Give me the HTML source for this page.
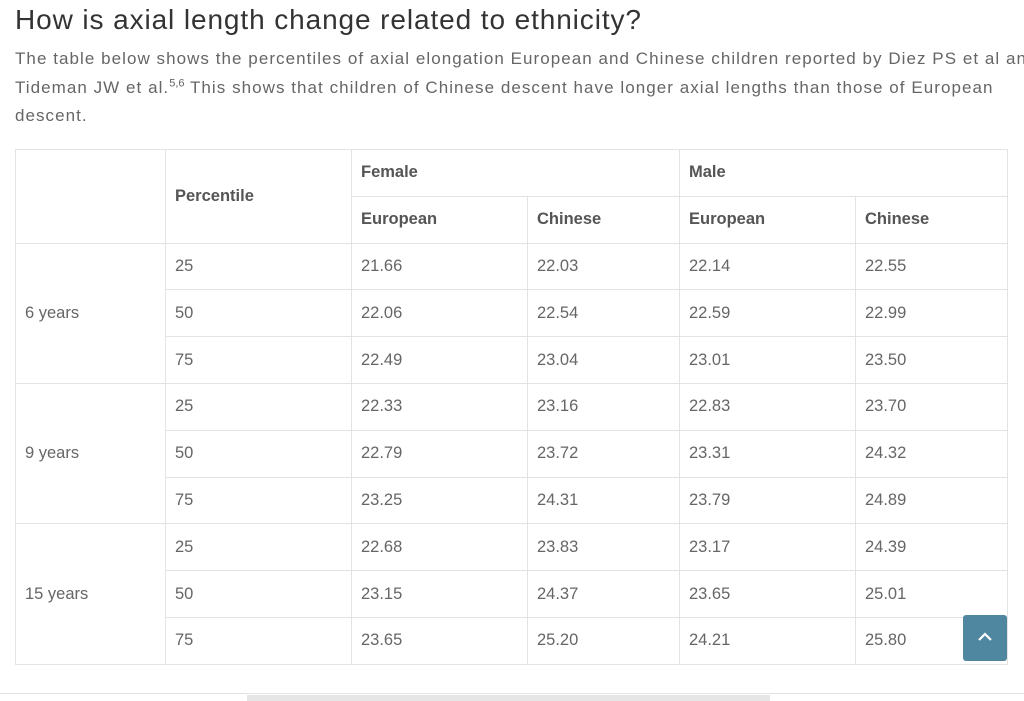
<!DOCTYPE html>
<html><head><meta charset="utf-8"><style>
body{margin:0;width:1024px;height:701px;background:#fff;font-family:"Liberation Sans",sans-serif;position:relative;overflow:hidden}
h2{position:absolute;left:15px;top:4px;margin:0;font-weight:normal;font-size:28px;color:#333;letter-spacing:0.9px;white-space:nowrap}
p{position:absolute;left:15px;top:45px;width:1010px;margin:0;font-size:17px;line-height:28.5px;color:#666;letter-spacing:1.05px;white-space:nowrap}
sup{font-size:11px;line-height:0;letter-spacing:0}
table{position:absolute;left:15px;top:149px;border-collapse:collapse;table-layout:fixed;font-size:16.5px;color:#666}
td,th{border:1px solid #e3e3e3;padding:0 9px;text-align:left;height:46.8px;vertical-align:middle;box-sizing:border-box}
th{font-weight:bold;color:#555}
.btn{position:absolute;left:963px;top:615px;width:44px;height:46px;background:#4f86a0;border-radius:3px}
.btn svg{position:absolute;left:14px;top:17px}
.line{position:absolute;left:0;top:693px;width:1024px;height:1px;background:#e3e3e3}
.bar{position:absolute;left:247px;top:695px;width:523px;height:6px;background:#e6e6e6}
</style></head><body>
<h2>How is axial length change related to ethnicity?</h2>
<p>The table below shows the percentiles of axial elongation European and Chinese children reported by Diez PS et al and<br>Tideman JW et al.<sup>5,6</sup> This shows that children of Chinese descent have longer axial lengths than those of European<br>descent.</p>
<table>
<colgroup><col style="width:150px"><col style="width:186px"><col style="width:176px"><col style="width:152px"><col style="width:176px"><col style="width:152px"></colgroup>
<tr><th rowspan="2"></th><th rowspan="2">Percentile</th><th colspan="2">Female</th><th colspan="2">Male</th></tr>
<tr><th>European</th><th>Chinese</th><th>European</th><th>Chinese</th></tr>
<tr><td rowspan="3">6 years</td><td>25</td><td>21.66</td><td>22.03</td><td>22.14</td><td>22.55</td></tr>
<tr><td>50</td><td>22.06</td><td>22.54</td><td>22.59</td><td>22.99</td></tr>
<tr><td>75</td><td>22.49</td><td>23.04</td><td>23.01</td><td>23.50</td></tr>
<tr><td rowspan="3">9 years</td><td>25</td><td>22.33</td><td>23.16</td><td>22.83</td><td>23.70</td></tr>
<tr><td>50</td><td>22.79</td><td>23.72</td><td>23.31</td><td>24.32</td></tr>
<tr><td>75</td><td>23.25</td><td>24.31</td><td>23.79</td><td>24.89</td></tr>
<tr><td rowspan="3">15 years</td><td>25</td><td>22.68</td><td>23.83</td><td>23.17</td><td>24.39</td></tr>
<tr><td>50</td><td>23.15</td><td>24.37</td><td>23.65</td><td>25.01</td></tr>
<tr><td>75</td><td>23.65</td><td>25.20</td><td>24.21</td><td>25.80</td></tr>
</table>
<div class="btn"><svg width="16" height="10" viewBox="0 0 16 10"><polyline points="2,8 8,2 14,8" fill="none" stroke="#fff" stroke-width="2.2"/></svg></div>
<div class="line"></div>
<div class="bar"></div>
</body></html>
